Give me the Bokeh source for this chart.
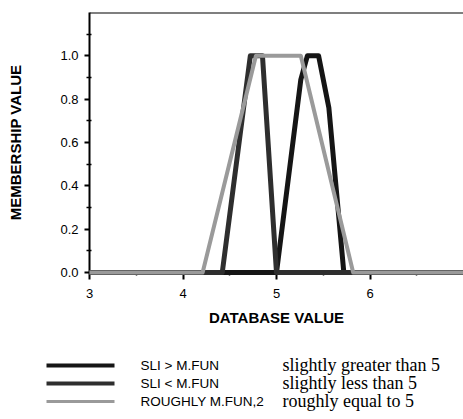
from bokeh.plotting import figure
from bokeh.layouts import column
from bokeh.models import Range1d, FixedTicker, Span, CustomJSTickFormatter
from bokeh.core.properties import value
from bokeh.embed import file_html
from bokeh.resources import INLINE

# ---- data ----
x_greater = [3.0, 5.0, 5.26, 5.33, 5.45, 5.56, 5.72, 7.0]
y_greater = [0.0, 0.0, 0.89, 1.0, 1.0, 0.76, 0.0, 0.0]

x_less = [3.0, 4.42, 4.72, 4.85, 5.0, 7.0]
y_less = [0.0, 0.0, 1.0, 1.0, 0.0, 0.0]

x_rough = [3.0, 4.21, 4.78, 5.26, 5.82, 7.0]
y_rough = [0.0, 0.0, 1.0, 1.0, 0.0, 0.0]

series_names = ["SLI > M.FUN", "SLI < M.FUN", "ROUGHLY M.FUN,2"]
series_notes = ["slightly greater than 5", "slightly less than 5", "roughly equal to 5"]

x_ticks = [3, 4, 5, 6]
x_minor = [3.5, 4.5, 5.5, 6.5]
y_ticks = [0.0, 0.2, 0.4, 0.6, 0.8, 1.0]
y_minor = [0.1, 0.3, 0.5, 0.7, 0.9, 1.1]

SANS = "Liberation Sans"
SERIF = "Liberation Serif"
colors = ["#151515", "#2e2e2e", "#9a9a9a"]
widths = [5, 5, 4]

W = 463
TOP_H = 340
LEG_H = 79

p = figure(width=W, height=TOP_H, output_backend="svg", toolbar_location=None,
           x_range=Range1d(3, 7), y_range=Range1d(0, 1.2),
           min_border_left=89, min_border_right=0, min_border_top=12,
           min_border_bottom=68)
p.outline_line_color = None
p.grid.visible = False
p.frame_align = False

series = [(x_greater, y_greater), (x_less, y_less), (x_rough, y_rough)]
for (xs, ys), c, w in zip(series, colors, widths):
    p.line(xs, ys, line_color=c, line_width=w, line_join="round", level="overlay")

p.add_layout(Span(location=1.2, dimension="width", line_color="black", line_width=2))

for ax in (p.xaxis[0], p.yaxis[0]):
    ax.axis_line_color = "black"
    ax.axis_line_width = 2
    ax.major_tick_line_color = "black"
    ax.major_tick_line_width = 2
    ax.minor_tick_line_color = "black"
    ax.minor_tick_line_width = 1.5
    ax.major_label_text_font = SANS
    ax.major_label_text_font_size = "13px"
    ax.major_label_text_color = "black"
    ax.axis_label_text_font = SANS
    ax.axis_label_text_font_style = "bold"
    ax.axis_label_text_font_size = "15px"
    ax.axis_label_text_color = "black"

p.xaxis.ticker = FixedTicker(ticks=x_ticks, minor_ticks=x_minor)
p.xaxis.major_tick_out = 7
p.xaxis.major_tick_in = 0
p.xaxis.minor_tick_out = 3
p.xaxis.minor_tick_in = 2
p.xaxis.major_label_standoff = 9
p.xaxis.axis_label = "DATABASE VALUE"
p.xaxis.axis_label_standoff = 8

p.yaxis.ticker = FixedTicker(ticks=y_ticks, minor_ticks=y_minor)
p.yaxis.formatter = CustomJSTickFormatter(code="return tick.toFixed(1);")
p.yaxis.major_tick_out = 5
p.yaxis.major_tick_in = 0
p.yaxis.minor_tick_out = 3
p.yaxis.minor_tick_in = 2
p.yaxis.major_label_standoff = 6
p.yaxis.axis_label = "MEMBERSHIP VALUE"
p.yaxis.axis_label_standoff = 33

# ---- legend panel below the chart (pixel-like coordinates) ----
leg = figure(width=W, height=LEG_H, output_backend="svg", toolbar_location=None,
             x_range=Range1d(0, W), y_range=Range1d(0, LEG_H),
             x_axis_location=None, y_axis_location=None,
             min_border=0, min_border_left=0, min_border_right=0,
             min_border_top=0, min_border_bottom=0)
leg.outline_line_color = None
leg.grid.visible = False
leg.frame_align = False

row_y = [LEG_H - 25, LEG_H - 43, LEG_H - 61]
for yy, c, w in zip(row_y, colors, widths):
    leg.line([46, 114], [yy, yy], line_color=c, line_width=w - 1)

leg.text(x=[140] * 3, y=row_y, text=series_names, text_font=value(SANS),
         text_font_size="13.5px", text_baseline="middle", text_color="black")
leg.text(x=[282] * 3, y=[yy + 1 for yy in row_y], text=series_notes,
         text_font=value(SERIF), text_font_size="18px", text_baseline="middle",
         text_color="black")

layout = column(p, leg, spacing=0)
open("out.html", "w").write(file_html(layout, INLINE))
